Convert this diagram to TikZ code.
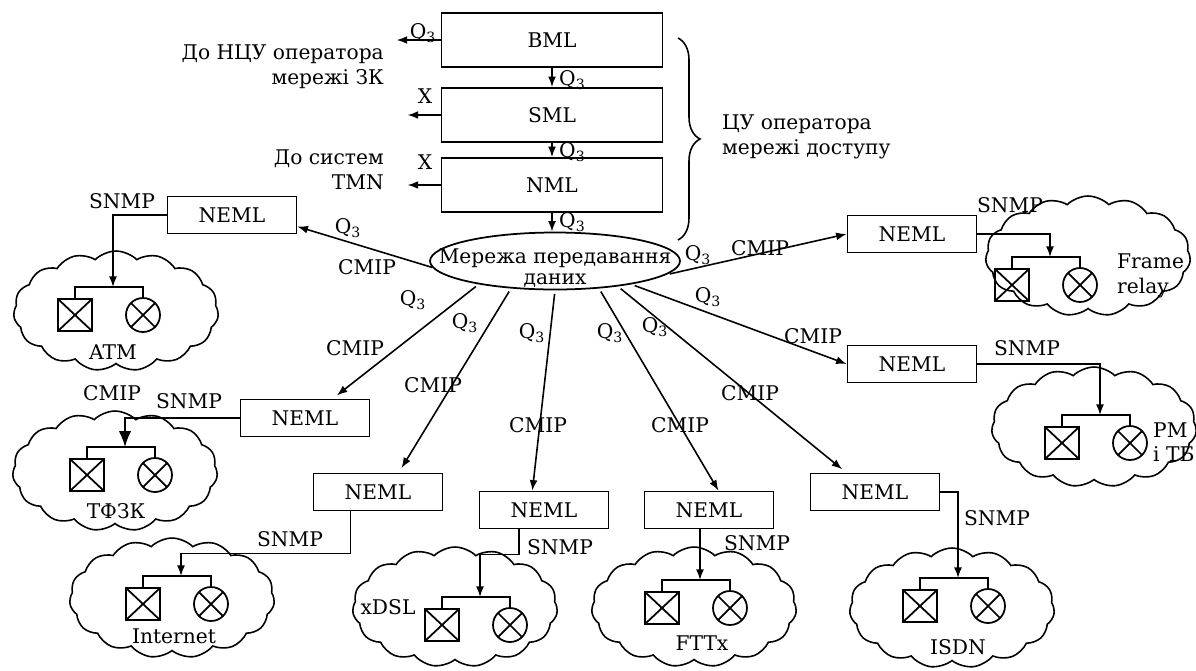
\documentclass[tikz,border=0pt]{standalone}
\usepackage{fontspec}
\setmainfont{DejaVu Serif}
\usetikzlibrary{arrows.meta, shapes.geometric, shapes.symbols, decorations.pathreplacing, calc}

\newcommand{\qthree}{Q\textsubscript{3}}

\tikzset{
  level/.style={draw, line width=1pt, minimum width=4.42cm, minimum height=1.08cm},
  neml/.style={draw, line width=1pt, minimum width=2.58cm, minimum height=0.74cm},
  netcloud/.style={draw, cloud, cloud puffs=15, cloud puff arc=90, cloud ignores aspect,
    line width=0.9pt, minimum width=4.1cm, minimum height=2.4cm},
  xcross/.style={path picture={\draw (path picture bounding box.south west) -- (path picture bounding box.north east)
    (path picture bounding box.north west) -- (path picture bounding box.south east);}},
  term/.style={draw, xcross, line width=1pt, minimum width=0.68cm, minimum height=0.64cm, inner sep=0pt},
  lamp/.style={draw, xcross, circle, line width=1pt, minimum size=0.68cm, inner sep=0pt},
  feed/.style={-{Latex[length=6pt,width=4.5pt]}, line width=0.9pt},
}

\newcommand{\netend}[3]{%
  \coordinate (#1) at (#2,#3);
  \node[term] (#1t) at ({#2-38},{#3+28}) {};
  \node[lamp] (#1l) at ({#2+30},{#3+28}) {};
  \draw[line width=0.9pt] (#1t.north) |- (#1) -| (#1l.north);
}

\begin{document}
\begin{tikzpicture}[x=0.02cm, y=-0.02cm, every node/.style={font=\fontsize{11.5}{14}\selectfont}]
\useasboundingbox (0,0) rectangle (1196,670);

\node[netcloud] (atmC) at (116,311) {};
\node[netcloud] (tfzC) at (115,471) {};
\node[netcloud] (inetC) at (172,598) {};
\node[netcloud] (xdslC) at (455,607) {};
\node[netcloud] (fttxC) at (694,607) {};
\node[netcloud] (isdnC) at (952,608) {};
\node[netcloud] (frC) at (1088,256) {};
\node[netcloud] (pmC) at (1094,427) {};

\netend{atm}{113}{287}
\netend{tfz}{125}{447}
\netend{inet}{181}{576}
\netend{xdsl}{480}{597}
\netend{fttx}{700}{580}
\netend{isdn}{958}{578}
\netend{fr}{1050}{257}
\netend{pm}{1100}{415}

\node[level] (bml) at (552,40) {BML};
\node[level] (sml) at (552,115) {SML};
\node[level] (nml) at (552,185) {NML};
\node[draw, ellipse, line width=1pt, minimum width=5cm, minimum height=1.14cm] (data) at (555,261) {};
\node[align=center, font=\fontsize{11.5}{11.5}\selectfont] (dataT) at (555,268) {Мережа передавання\\даних};

\draw[feed] (bml.south) -- (sml.north);
\draw[feed] (sml.south) -- (nml.north);
\draw[feed] (nml.south) -- (nml.south |- data.north);
\node[anchor=west] at (553,80) {\qthree};
\node[anchor=west] at (553,152) {\qthree};
\node[anchor=west] at (553,222) {\qthree};

\draw[feed] (bml.west) -- ++(-44,0) coordinate (bmlOut);
\draw[feed] (sml.west) -- ++(-33,0) coordinate (smlOut);
\draw[feed] (nml.west) -- ++(-33,0) coordinate (nmlOut);
\node at (423,33) {\qthree};
\node at (425,96) {X};
\node at (425,162) {X};
\node[anchor=east, align=right] at (390,67) {До НЦУ оператора\\мережі ЗК};
\node[anchor=east, align=right] at (390,170) {До систем\\TMN};

\draw[decorate, decoration={brace, amplitude=0.44cm}, line width=0.9pt] (678,38) -- (678,240);
\node[anchor=west, align=left] at (716,137) {ЦУ оператора\\мережі доступу};

\node[neml] (atmN) at (232,215) {NEML};
\node[neml] (tfzN) at (305,418) {NEML};
\node[neml] (inetN) at (378,492) {NEML};
\node[neml] (xdslN) at (544,510) {NEML};
\node[neml] (fttxN) at (709,510) {NEML};
\node[neml] (isdnN) at (875,492) {NEML};
\node[neml] (frN) at (912,234) {NEML};
\node[neml] (pmN) at (912,364) {NEML};

\draw[feed] (data.183) -- (atmN.-10);
\draw[feed, shorten <=2pt, shorten >=3pt] (data.197) -- (tfzN.35);
\draw[feed, shorten <=2pt, shorten >=3pt] (data.212) -- (inetN.43);
\draw[feed, shorten <=2pt] (data.south) -- (xdslN.121);
\draw[feed, shorten <=2pt] (data.328) -- (fttxN.64);
\draw[feed, shorten <=2pt, shorten >=3pt] (data.338) -- (isdnN.146);
\draw[feed, shorten <=2pt] (data.343) -- (pmN.west);
\draw[feed, shorten <=2pt] (data.353) -- (frN.west);

\node at (348,228) {\qthree};
\node at (367,267) {CMIP};
\node at (413,300) {\qthree};
\node at (355,348) {CMIP};
\node at (465,323) {\qthree};
\node at (433,385) {CMIP};
\node at (532,333) {\qthree};
\node at (538,425) {CMIP};
\node at (610,333) {\qthree};
\node at (680,425) {CMIP};
\node at (655,327) {\qthree};
\node at (750,393) {CMIP};
\node at (708,297) {\qthree};
\node at (813,336) {CMIP};
\node at (698,255) {\qthree};
\node at (760,248) {CMIP};
\node at (112,393) {CMIP};

\draw[feed] (atmN.west) -| (atm);
\draw[-{Latex[length=9pt,width=7pt]}, line width=0.9pt] (tfzN.west) -| (tfz);
\draw[feed] (inetN.215) -- ++(0,42) -| (inet);
\draw[feed] (xdslN.218) -- ++(0,25) -| (xdsl);
\draw[feed] (fttx |- fttxN.south) -- (fttx);
\draw[feed] (isdnN.east) -| (isdn);
\draw[feed] (frN.east) -| (fr);
\draw[feed] (pmN.east) -| (pm);

\node at (122,201) {SNMP};
\node at (189,401) {SNMP};
\node at (290,539) {SNMP};
\node at (560,547) {SNMP};
\node at (757,543) {SNMP};
\node at (997,518) {SNMP};
\node at (1027,348) {SNMP};
\node at (1010,205) {SNMP};

\node at (113,352) {ATM};
\node at (116,511) {ТФЗК};
\node at (174,636) {Internet};
\node at (388,607) {xDSL};
\node at (702,643) {FTTx};
\node at (958,647) {ISDN};
\node[anchor=west, align=left] at (1111,276) {Frame\\relay};
\node[anchor=west, align=left] at (1147,442) {РМ\\і ТБ};
\end{tikzpicture}
\end{document}
